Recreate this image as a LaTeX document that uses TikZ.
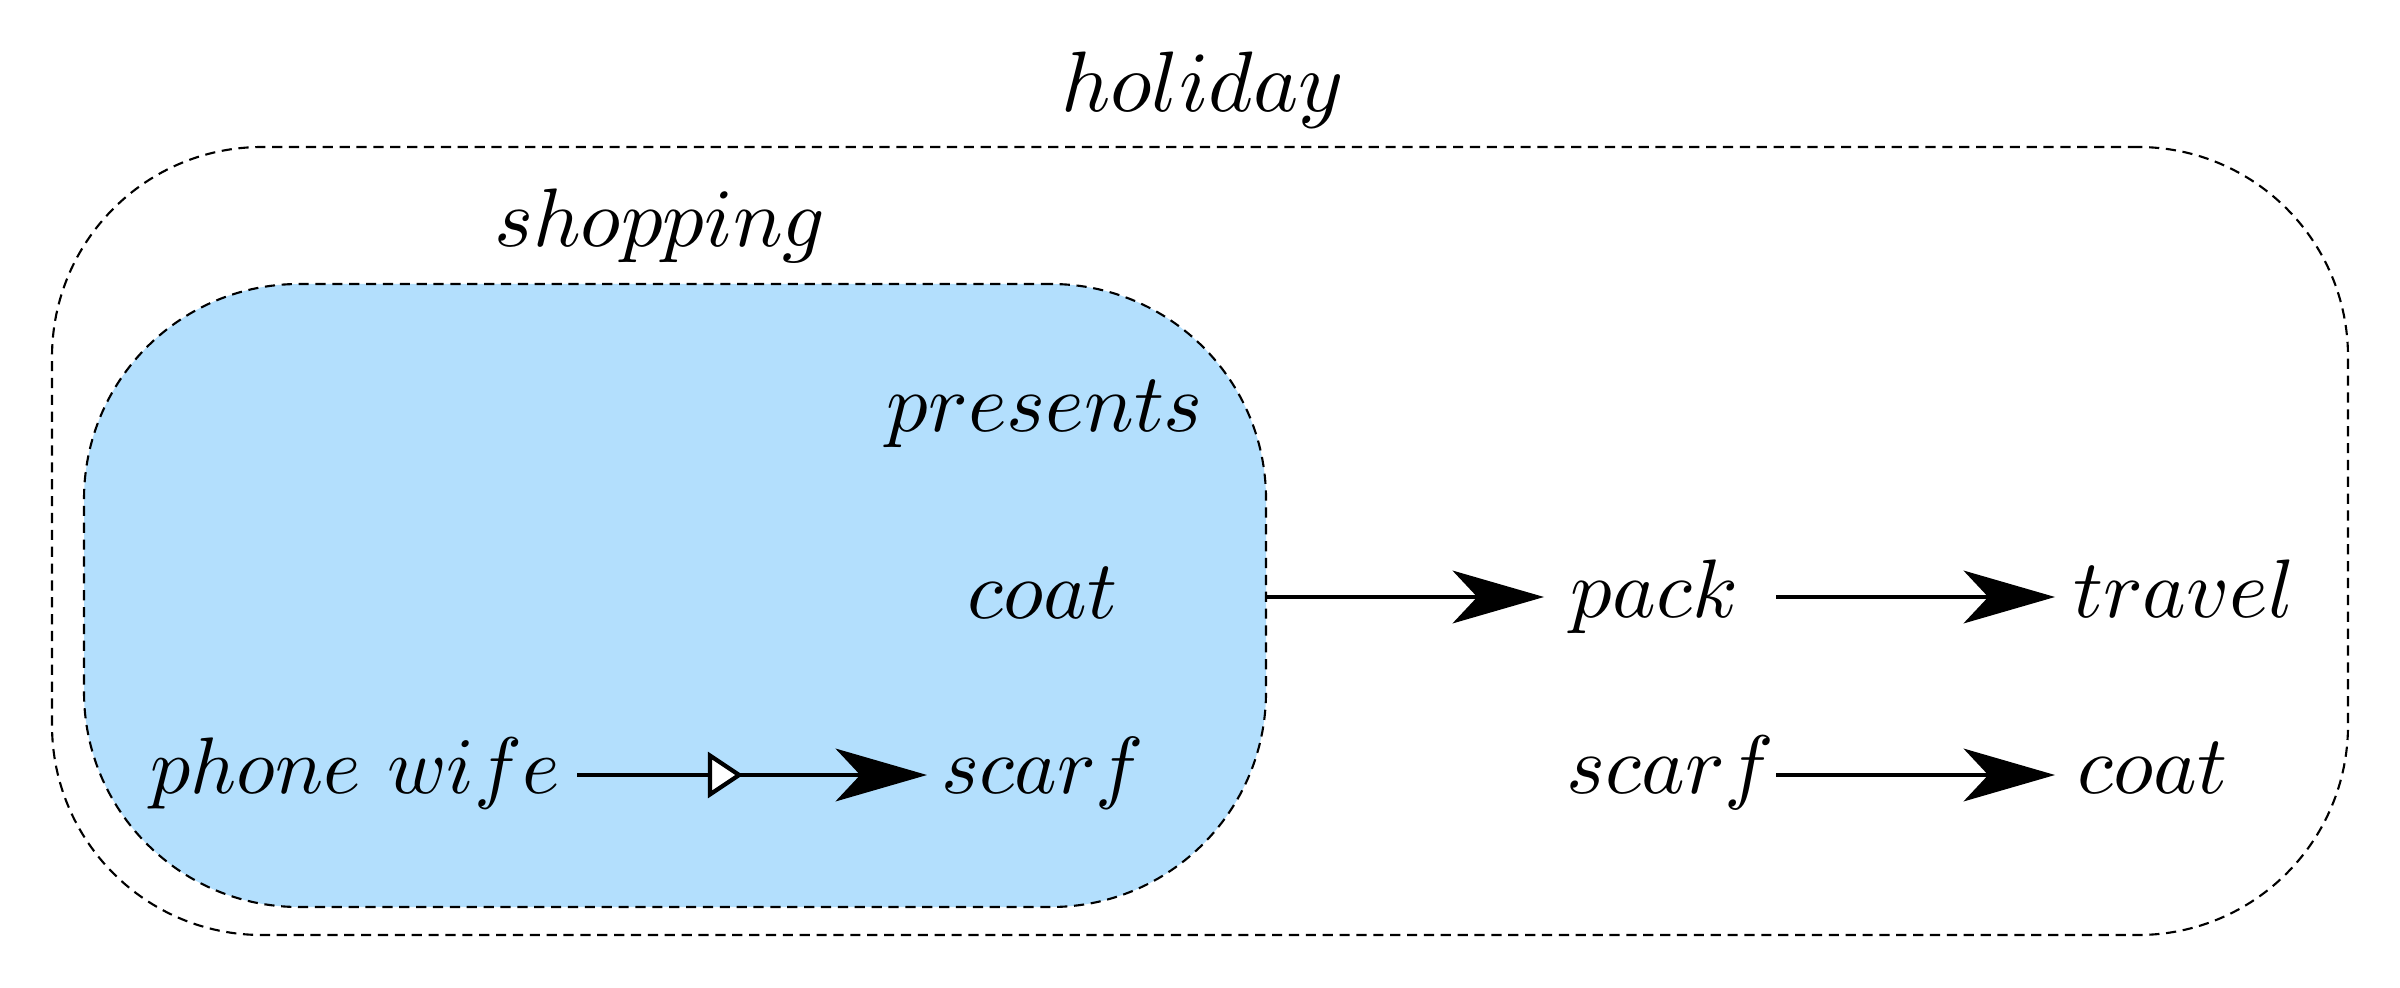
\documentclass[tikz,border=0pt]{standalone}
\usepackage{graphicx}
\usetikzlibrary{arrows.meta,calc,decorations.markings}
\definecolor{shopblue}{RGB}{179,223,253}
\newcommand{\lbltext}[2][2.36]{\scalebox{#1}{$#2$}}
\tikzset{
  lbl/.style={inner sep=0pt, anchor=base},
  clusterline/.style={line width=0.6pt, dash pattern=on 2.9pt off 1.9pt},
  arr/.style={line width=1.2pt, -{Stealth[length=26pt,width=15pt,inset=7pt]}},
  midtri/.style={postaction={decorate}, decoration={markings,
     mark=at position 1.66cm with {\arrow{Triangle[fill=white,length=10pt,width=13pt]}}}}
}
\begin{document}
\begin{tikzpicture}
\useasboundingbox (0,0) rectangle (24,-9.88);
% clusters
\node[draw, clusterline, rounded corners=2.1cm, minimum width=22.96cm, minimum height=7.88cm, inner sep=0pt] (holbox) at (12.0,-5.41) {};
\node[draw, fill=shopblue, clusterline, rounded corners=2.15cm, minimum width=11.82cm, minimum height=6.23cm, inner sep=0pt] (shopbox) at (6.75,-5.955) {};
% labels
\node[lbl] (holiday) at (12.025,-1.12) {\lbltext[2.44]{holiday}};
\node[lbl] (shopping) at (6.60,-2.47) {\lbltext{shopping}};
\node[lbl] (presents) at (10.45,-4.32) {\lbltext{presents}};
\node[lbl] (coatA) at (10.425,-6.18) {\lbltext{coat}};
\node[lbl] (scarfA) at (10.43,-7.93) {\lbltext[2.3]{scarf}};
\node[lbl] (phone) at (3.55,-7.93) {\lbltext[2.28]{phone\ wife}};
\node[lbl] (pack) at (16.545,-6.17) {\lbltext{pack}};
\node[lbl] (travel) at (21.84,-6.17) {\lbltext{travel}};
\node[lbl] (scarfB) at (16.705,-7.93) {\lbltext{scarf}};
\node[lbl] (coatB) at (21.525,-7.93) {\lbltext{coat}};
% connectors
\draw[arr, midtri] ($(phone.base)+(2.22,0.18)$) -- ($(scarfA.base)+(-1.16,0.18)$);
\draw[arr] ($(shopbox.east |- pack.base)+(0,0.2)$) -- ($(pack.base)+(-1.105,0.2)$);
\draw[arr] ($(pack.base)+(1.215,0.2)$) -- ($(travel.base)+(-1.29,0.2)$);
\draw[arr] ($(scarfB.base)+(1.055,0.18)$) -- ($(coatB.base)+(-0.975,0.18)$);
\end{tikzpicture}
\end{document}
